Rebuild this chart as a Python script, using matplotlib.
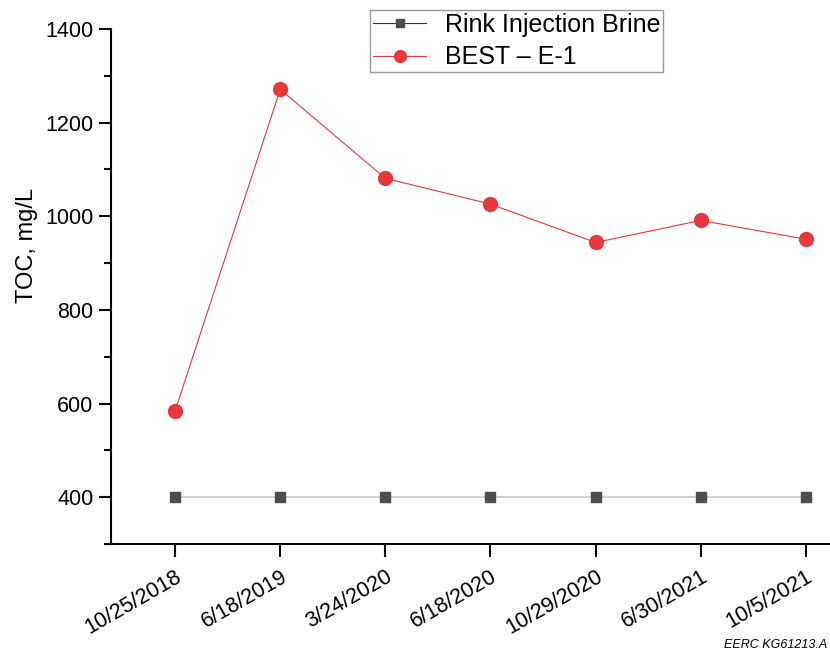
import matplotlib.pyplot as plt
from matplotlib.ticker import MultipleLocator

plt.rcParams['font.family'] = ['Liberation Sans', 'DejaVu Sans']

# sample dates and TOC values (mg/L)
dates = ["10/25/2018", "6/18/2019", "3/24/2020", "6/18/2020",
         "10/29/2020", "6/30/2021", "10/5/2021"]
rink_brine = [400, 400, 400, 400, 400, 400, 400]
best_e1 = [584, 1271, 1081, 1026, 944, 991, 951]

x = list(range(len(dates)))

fig = plt.figure(figsize=(8.3, 6.6), dpi=100)
ax = fig.add_axes([0.1337, 0.1758, 0.8663, 0.7803])

ax.plot(x, rink_brine, color="#c8c8c8", linewidth=1.2, marker="s",
        markersize=7.5, markerfacecolor="#4d4d4d", markeredgecolor="#4d4d4d",
        label="Rink Injection Brine")
ax.plot(x, best_e1, color="#e8383d", linewidth=0.8, marker="o",
        markersize=10, markerfacecolor="#e8383d", markeredgecolor="#e8383d",
        label="BEST \u2013 E-1")

ax.set_xlim(-0.61, 6.23)
ax.set_ylim(300, 1400)
ax.yaxis.set_minor_locator(MultipleLocator(100))
ax.set_yticks([400, 600, 800, 1000, 1200, 1400])
ax.set_xticks(x)
ax.set_xticklabels(dates, rotation=30, ha="right", rotation_mode="anchor")

ax.spines["top"].set_visible(False)
ax.spines["right"].set_visible(False)
ax.spines["left"].set_linewidth(1.5)
ax.spines["bottom"].set_linewidth(1.5)
ax.tick_params(axis="both", which="major", direction="out", length=9,
               width=1.5, labelsize=15.5)
ax.tick_params(axis="x", pad=7)
ax.tick_params(axis="y", which="minor", direction="out", length=5, width=1.5)
ax.set_ylabel("TOC, mg/L", fontsize=17)
ax.yaxis.set_label_coords(-0.102, 0.58)

leg = ax.legend(loc="lower left", bbox_to_anchor=(0.446, 0.891),
                bbox_transform=fig.transFigure, fontsize=18, fancybox=False,
                framealpha=1, edgecolor="#999999", borderaxespad=0,
                handlelength=2.15, handletextpad=0.75, labelspacing=0.35,
                borderpad=0.1, markerscale=0.85)
leg.get_frame().set_linewidth(1.0)
leg.legend_handles[0].set_color("#333333")
leg.legend_handles[0].set_linewidth(0.8)
leg.legend_handles[0].set_markerfacecolor("#4d4d4d")

fig.text(0.997, 0.013, "EERC KG61213.A", ha="right", va="bottom",
         fontsize=9, style="italic")

fig.savefig("out.png", dpi=100)
